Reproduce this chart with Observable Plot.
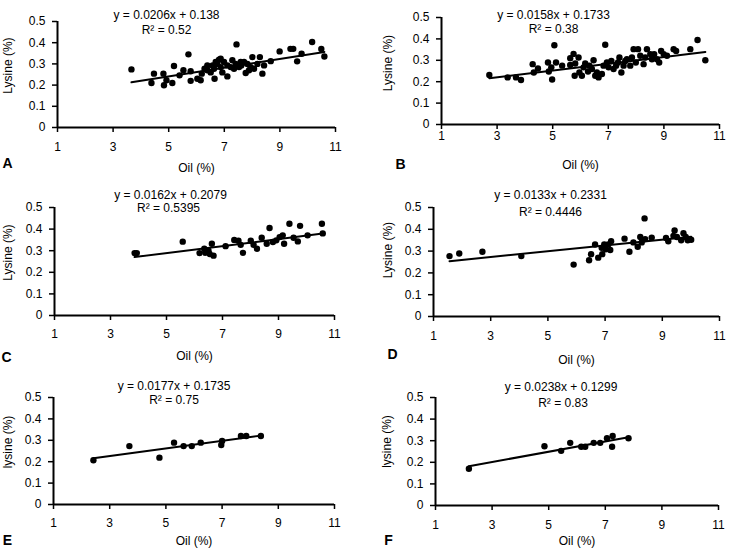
<!DOCTYPE html>
<html><head><meta charset="utf-8">
<script src="https://cdn.jsdelivr.net/npm/d3@7"></script>
<script src="https://cdn.jsdelivr.net/npm/@observablehq/plot@0.6"></script>
<style>
body{margin:0;background:#fff;}
#wrap{position:relative;width:729px;height:549px;overflow:hidden;background:#fff;}
.panel{position:absolute;}
</style></head><body><div id="wrap"></div>
<script>
// ---- data ----
const panelLetters = ["A","B","C","D","E","F"];
const xLabel = "Oil (%)";
const yLabels = ["Lysine (%)","Lysine (%)","Lysine (%)","Lysine (%)","lysine (%)","lysine (%)"];
const xTicks = [1,3,5,7,9,11];
const yTicks = [0,0.1,0.2,0.3,0.4,0.5];
const equations = ["y = 0.0206x + 0.138","y = 0.0158x + 0.1733","y = 0.0162x + 0.2079","y = 0.0133x + 0.2331","y = 0.0177x + 0.1735","y = 0.0238x + 0.1299"];
const r2Labels = ["R\u00B2 = 0.52","R\u00B2 = 0.38","R\u00B2 = 0.5395","R\u00B2 = 0.4446","R\u00B2 = 0.75","R\u00B2 = 0.83"];
const slopes = [0.0206,0.0158,0.0162,0.0133,0.0177,0.0238];
const intercepts = [0.138,0.1733,0.2079,0.2331,0.1735,0.1299];

const oilA = [3.66,4.38,4.47,4.81,4.83,4.92,5.13,5.19,5.39,5.53,5.71,5.79,5.79,6.03,6.15,6.19,6.29,6.39,6.39,6.51,6.58,6.63,6.65,6.69,6.75,6.81,6.87,6.87,6.93,6.99,7.11,7.11,7.23,7.29,7.35,7.41,7.44,7.53,7.59,7.61,7.71,7.77,7.83,7.89,7.95,8.01,8.07,8.19,8.28,8.37,8.43,8.67,8.99,9.38,9.48,9.62,9.78,10.16,10.49,10.60];
const lysA = [0.274,0.21,0.254,0.254,0.199,0.223,0.21,0.29,0.246,0.27,0.345,0.265,0.22,0.23,0.223,0.254,0.277,0.27,0.293,0.26,0.293,0.277,0.23,0.309,0.30,0.32,0.285,0.324,0.26,0.309,0.241,0.293,0.285,0.317,0.277,0.30,0.392,0.285,0.309,0.293,0.309,0.257,0.30,0.27,0.285,0.332,0.277,0.30,0.332,0.254,0.293,0.313,0.359,0.371,0.371,0.312,0.348,0.403,0.37,0.335];

const oilB = [2.72,3.38,3.68,3.86,4.28,4.32,4.47,4.83,4.86,4.95,4.98,5.06,5.12,5.34,5.63,5.63,5.75,5.79,5.81,5.93,5.96,6.05,6.11,6.17,6.27,6.32,6.41,6.47,6.53,6.59,6.65,6.77,6.83,6.89,6.95,7.01,7.11,7.19,7.28,7.35,7.40,7.47,7.55,7.61,7.67,7.79,7.85,7.91,7.99,8.07,8.15,8.27,8.33,8.39,8.51,8.57,8.65,8.75,8.83,8.90,8.99,9.11,9.35,9.44,9.95,10.21,10.49];
const lysB = [0.231,0.22,0.22,0.208,0.282,0.243,0.262,0.29,0.248,0.267,0.21,0.37,0.29,0.275,0.278,0.31,0.33,0.228,0.285,0.313,0.243,0.228,0.267,0.285,0.248,0.275,0.259,0.30,0.228,0.243,0.22,0.236,0.275,0.373,0.29,0.267,0.297,0.259,0.275,0.29,0.313,0.243,0.275,0.297,0.305,0.275,0.313,0.352,0.29,0.352,0.321,0.282,0.313,0.352,0.329,0.305,0.329,0.305,0.29,0.344,0.329,0.321,0.352,0.344,0.352,0.395,0.30];

const oilC = [3.86,3.94,5.58,6.18,6.35,6.38,6.50,6.54,6.62,6.68,7.11,7.42,7.57,7.65,7.73,8.01,8.11,8.23,8.40,8.58,8.68,8.80,8.92,9.04,9.15,9.20,9.39,9.54,9.69,9.77,10.04,10.55,10.58];
const lysC = [0.289,0.289,0.342,0.289,0.309,0.29,0.30,0.285,0.332,0.277,0.321,0.35,0.346,0.327,0.29,0.346,0.327,0.309,0.36,0.332,0.405,0.34,0.348,0.363,0.371,0.332,0.425,0.36,0.343,0.415,0.371,0.425,0.38];

const oilD = [1.56,1.90,2.71,4.07,5.90,6.44,6.51,6.65,6.76,6.88,6.90,6.97,7.02,7.11,7.18,7.21,7.68,7.85,7.99,8.14,8.23,8.28,8.38,8.40,8.63,9.13,9.21,9.39,9.43,9.51,9.66,9.74,9.82,9.89,10.01];
const lysD = [0.277,0.289,0.297,0.277,0.238,0.258,0.286,0.33,0.27,0.315,0.286,0.33,0.308,0.33,0.305,0.345,0.357,0.297,0.34,0.32,0.365,0.34,0.45,0.355,0.362,0.36,0.345,0.37,0.395,0.365,0.35,0.382,0.365,0.35,0.352];

const oilE = [2.42,3.70,4.77,5.29,5.63,5.92,6.24,6.97,7.00,7.67,7.86,8.38];
const lysE = [0.207,0.273,0.219,0.289,0.273,0.273,0.289,0.278,0.297,0.32,0.32,0.32];

const oilF = [2.18,4.85,5.44,5.76,6.15,6.29,6.59,6.82,7.06,7.24,7.26,7.82];
const lysF = [0.17,0.274,0.253,0.29,0.272,0.272,0.29,0.29,0.311,0.272,0.322,0.311];

const oilSets = [oilA,oilB,oilC,oilD,oilE,oilF];
const lysSets = [lysA,lysB,lysC,lysD,lysE,lysF];

// ---- layout (styles only) ----
const layout = [
 {left:0,   top:0,   w:365, h:180, mL:57, mR:30, mT:21, mB:53, xPad:10, eqDx:-30, eqDy:-6,  r2Dx:-30, r2Dy:9,  ylDx:-49, ylDy:-9,  ltDx:-50, ltDy:36, xlDy:41},
 {left:365, top:0,   w:364, h:180, mL:76, mR:10, mT:17, mB:56, xPad:2,  eqDx:-27, eqDy:-2,  r2Dx:-27, r2Dy:12, ylDx:-53, ylDy:-8,  ltDx:-41, ltDy:40, xlDy:41},
 {left:0,   top:180, w:365, h:185, mL:54, mR:31, mT:27, mB:50, xPad:9,  eqDx:-24, eqDy:-12, r2Dx:-26, r2Dy:1,  ylDx:-46, ylDy:-9,  ltDx:-48, ltDy:42, xlDy:41},
 {left:365, top:180, w:364, h:185, mL:68, mR:10, mT:27, mB:49, xPad:10, eqDx:-26, eqDy:-12, r2Dx:-26, r2Dy:5,  ylDx:-45, ylDy:-12, ltDx:-41, ltDy:38, xlDy:44},
 {left:0,   top:365, w:365, h:184, mL:53, mR:31, mT:32, mB:45, xPad:9,  eqDx:-20, eqDy:-11, r2Dx:-20, r2Dy:3,  ylDx:-45, ylDy:-9,  ltDx:-46, ltDy:36, xlDy:37},
 {left:365, top:365, w:364, h:184, mL:70, mR:11, mT:32, mB:44, xPad:10, eqDx:-16, eqDy:-10, r2Dx:-14, r2Dy:6,  ylDx:-48, ylDy:-10, ltDx:-47, ltDy:35, xlDy:36}
];

const FONT = "'Liberation Sans', Arial, sans-serif";
const wrap = document.getElementById("wrap");

layout.forEach((L, i) => {
  const oil = oilSets[i], lys = lysSets[i];
  const pts = oil.map((x, j) => ({oil: x, lys: lys[j]})).filter(d => d.lys !== undefined);
  const [x0, x1] = d3.extent(oil);
  const fit = [x0, x1].map(x => ({oil: x, lys: slopes[i] * x + intercepts[i]}));

  const chart = Plot.plot({
    width: L.w, height: L.h,
    marginLeft: L.mL, marginRight: L.mR, marginTop: L.mT, marginBottom: L.mB,
    x: {domain: [xTicks[0], xTicks[xTicks.length - 1]]},
    y: {domain: [yTicks[0], yTicks[yTicks.length - 1]]},
    style: {fontFamily: FONT, fontSize: "12px", color: "#000", background: "transparent", overflow: "visible"},
    marks: [
      Plot.ruleY([yTicks[0]], {stroke: "#000", strokeWidth: 2}),
      Plot.ruleX([xTicks[0]], {stroke: "#000", strokeWidth: 2}),
      Plot.axisX({ticks: xTicks, tickSize: 5, tickPadding: L.xPad, strokeWidth: 1.5, label: null, fontSize: 12}),
      Plot.axisY({ticks: yTicks, tickSize: 5, tickPadding: 7, strokeWidth: 1.5, label: null, fontSize: 12,
                  tickFormat: d => d === 0 ? "0" : d3.format(".1f")(d)}),
      Plot.line(fit, {x: "oil", y: "lys", stroke: "#000", strokeWidth: 2}),
      Plot.dot(pts, {x: "oil", y: "lys", r: 3.2, fill: "#000", stroke: "none"}),
      Plot.text([equations[i]], {text: d => d, frameAnchor: "top", dx: L.eqDx, dy: L.eqDy, lineAnchor: "middle", fontSize: 12}),
      Plot.text([r2Labels[i]], {text: d => d, frameAnchor: "top", dx: L.r2Dx, dy: L.r2Dy, lineAnchor: "middle", fontSize: 12}),
      Plot.text([yLabels[i]], {text: d => d, frameAnchor: "left", rotate: -90, dx: L.ylDx, dy: L.ylDy, textAnchor: "middle", lineAnchor: "middle", fontSize: 12}),
      Plot.text([xLabel], {text: d => d, frameAnchor: "bottom", dy: L.xlDy, lineAnchor: "middle", fontSize: 12}),
      Plot.text([panelLetters[i]], {text: d => d, frameAnchor: "bottom-left", dx: L.ltDx, dy: L.ltDy, textAnchor: "middle", lineAnchor: "middle", fontSize: 14, fontWeight: "bold"})
    ]
  });
  const div = document.createElement("div");
  div.className = "panel";
  div.style.left = L.left + "px";
  div.style.top = L.top + "px";
  div.appendChild(chart);
  wrap.appendChild(div);
});
</script>
</body></html>
